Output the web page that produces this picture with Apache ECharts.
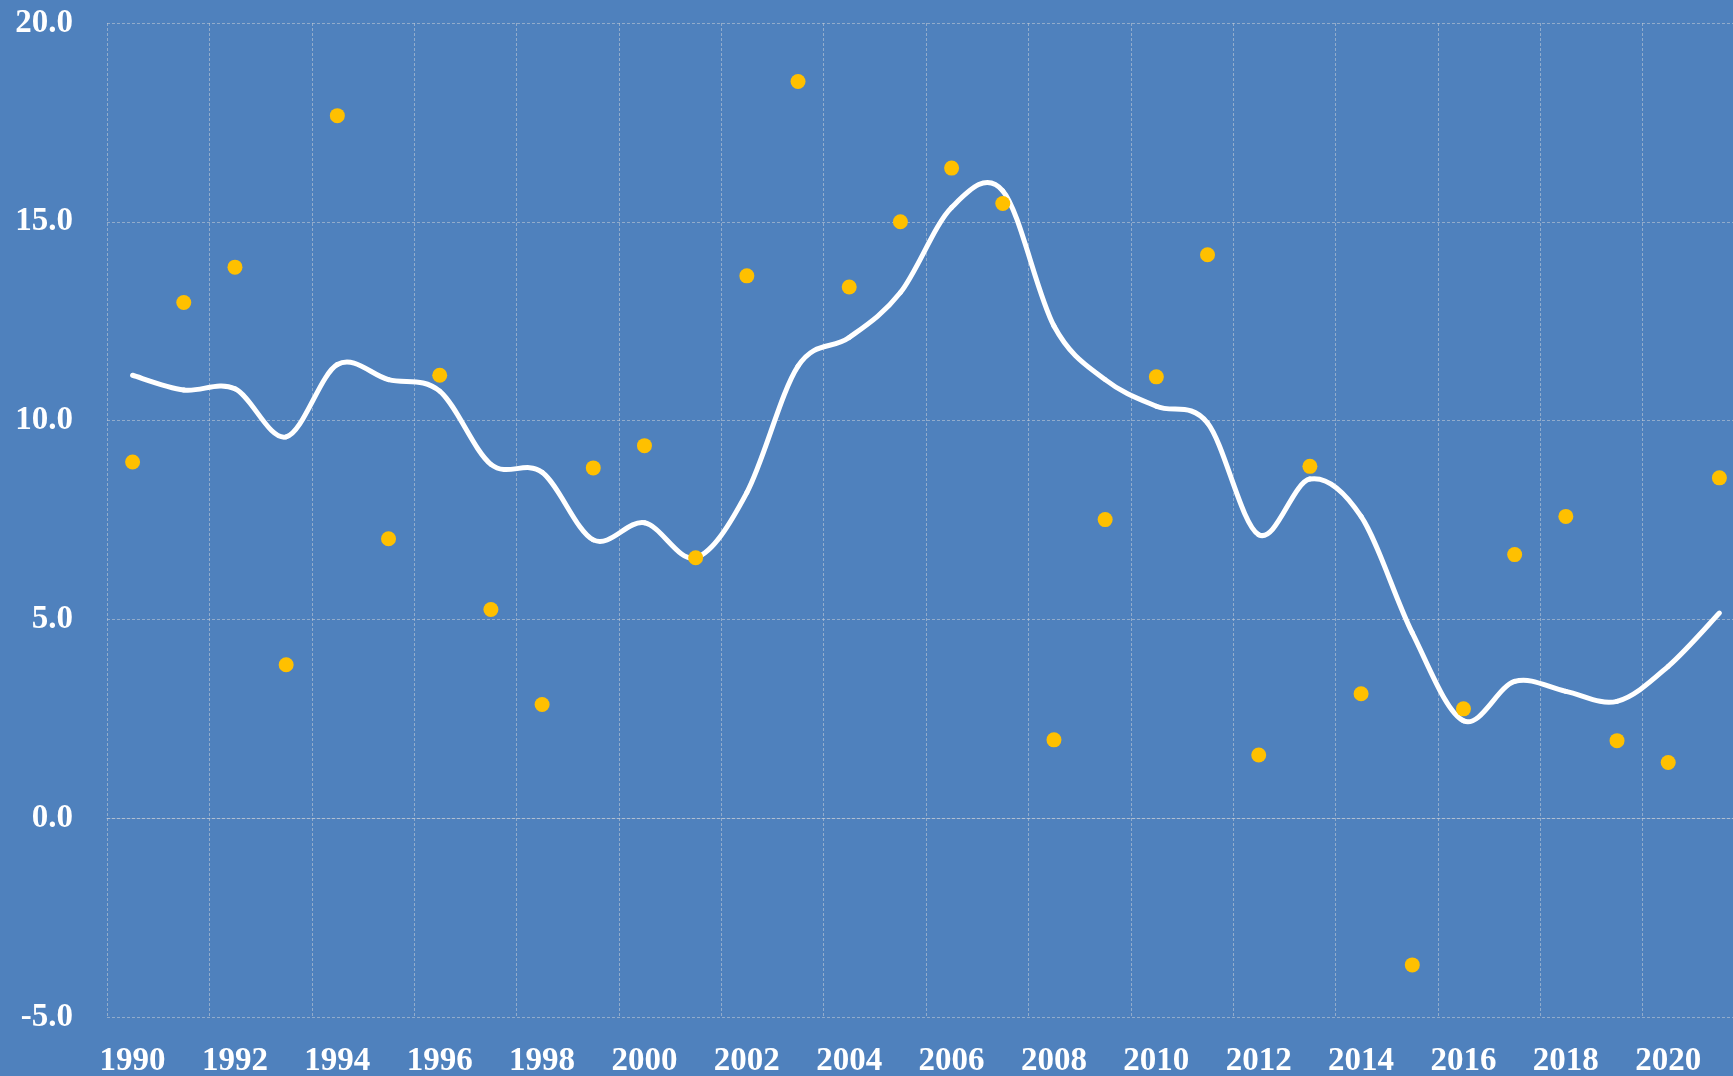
<!DOCTYPE html>
<html>
<head>
<meta charset="utf-8">
<script src="https://cdn.jsdelivr.net/npm/echarts@6/dist/echarts.min.js"></script>
<style>
  html, body { margin: 0; padding: 0; background: #4F81BD; }
  #chart { width: 1733px; height: 1076px; }
</style>
</head>
<body>
<div id="chart"></div>
<script>
// Categories (years)
const years = ['1990','1991','1992','1993','1994','1995','1996','1997','1998','1999',
               '2000','2001','2002','2003','2004','2005','2006','2007','2008','2009',
               '2010','2011','2012','2013','2014','2015','2016','2017','2018','2019',
               '2020','2021'];

// Scatter values (yellow dots)
const pointValues = [8.96, 12.97, 13.86, 3.86, 17.67, 7.03, 11.14, 5.25, 2.86, 8.81,
                     9.37, 6.55, 13.64, 18.53, 13.36, 15.00, 16.35, 15.46, 1.97, 7.51,
                     11.10, 14.17, 1.59, 8.85, 3.13, -3.69, 2.75, 6.63, 7.59, 1.95,
                     1.40, 8.56];

// Smoothed line values (white curve)
const lineValues = [11.14, 10.77, 10.80, 9.59, 11.41, 11.03, 10.74, 8.90, 8.70, 7.00,
                    7.43, 6.55, 8.19, 11.37, 12.09, 13.22, 15.36, 15.78, 12.38, 11.03,
                    10.36, 9.94, 7.13, 8.53, 7.59, 4.66, 2.45, 3.44, 3.19, 2.94,
                    3.82, 5.16];

// Y axis ticks
const yMin = -5, yMax = 20, yStep = 5;

const gridColor = 'rgba(200,205,215,0.55)';
const labelFont = {
  color: '#FFFFFF',
  fontFamily: '"Liberation Serif", "DejaVu Serif", serif',
  fontWeight: 'bold',
  fontSize: 33
};

// Smooth curve segment i -> i+1 (Catmull-Rom style, like a spreadsheet smoothed line),
// drawn from the data through the chart's own coordinate system.
function renderSegment(params, api) {
  const i = params.dataIndex;
  const n = lineValues.length;
  if (i >= n - 1) return null;
  const pt = k => api.coord([Math.max(0, Math.min(n - 1, k)), lineValues[Math.max(0, Math.min(n - 1, k))]]);
  const p0 = pt(i - 1), p1 = pt(i), p2 = pt(i + 1), p3 = pt(i + 2);
  return {
    type: 'bezierCurve',
    shape: {
      x1: p1[0], y1: p1[1],
      x2: p2[0], y2: p2[1],
      cpx1: p1[0] + (p2[0] - p0[0]) / 6, cpy1: p1[1] + (p2[1] - p0[1]) / 6,
      cpx2: p2[0] - (p3[0] - p1[0]) / 6, cpy2: p2[1] - (p3[1] - p1[1]) / 6
    },
    style: { stroke: '#FFFFFF', lineWidth: 5, fill: null, lineCap: 'round', lineJoin: 'round' },
    silent: true
  };
}

const chart = echarts.init(document.getElementById('chart'), null, { renderer: 'canvas' });
chart.setOption({
  animation: false,
  backgroundColor: '#4F81BD',
  grid: { left: 107, top: 23, width: 1638, height: 994, containLabel: false, outerBoundsMode: 'none' },
  xAxis: {
    type: 'category',
    data: years,
    boundaryGap: true,
    axisLine: { show: true, lineStyle: { color: gridColor, width: 1, type: [3, 2] } },
    axisTick: { show: false },
    axisLabel: Object.assign({ interval: 1, margin: 28 }, labelFont),
    splitLine: { show: true, interval: 1, lineStyle: { color: gridColor, width: 1, type: [3, 2] } }
  },
  yAxis: {
    type: 'value',
    min: yMin, max: yMax, interval: yStep,
    axisLine: { show: false },
    axisTick: { show: false },
    axisLabel: Object.assign({ margin: 34, formatter: v => v.toFixed(1) }, labelFont),
    splitLine: { show: true, lineStyle: { color: gridColor, width: 1, type: [3, 2] } }
  },
  series: [
    {
      type: 'custom',
      name: 'trend',
      data: lineValues.map((v, i) => [i, v]),
      encode: { x: 0, y: 1 },
      renderItem: renderSegment,
      clip: false,
      z: 2
    },
    {
      type: 'scatter',
      data: pointValues,
      symbol: 'circle',
      symbolSize: 15,
      itemStyle: { color: '#FFC000', opacity: 1 },
      z: 3
    }
  ]
});
</script>
</body>
</html>
